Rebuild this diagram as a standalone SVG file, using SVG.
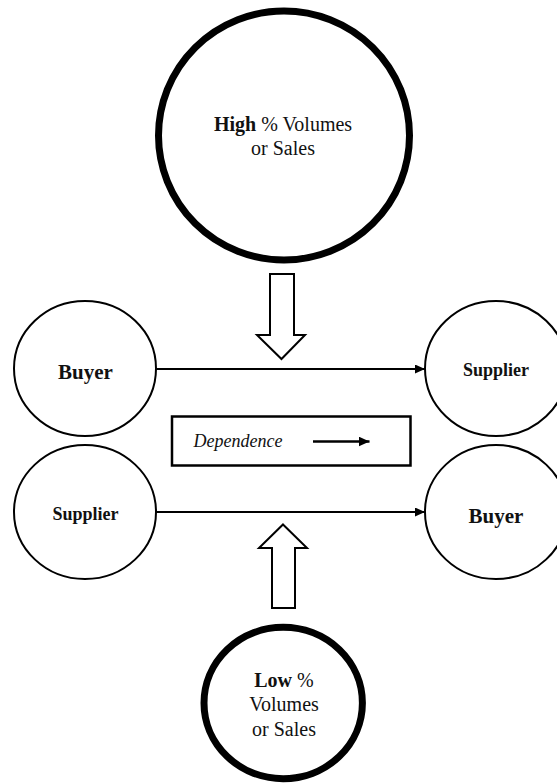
<svg xmlns="http://www.w3.org/2000/svg" width="557" height="783" viewBox="0 0 557 783">
  <style>
    .t { font-family: "Liberation Serif", "Times New Roman", serif; fill: #111; text-anchor: middle; }
    .b { font-weight: bold; }
    .big { fill: #fff; stroke: #000; stroke-width: 7; }
    .small { fill: #fff; stroke: #000; stroke-width: 2; }
    .conn { stroke: #000; stroke-width: 2; fill: none; }
    .hollow { fill: #fff; stroke: #000; stroke-width: 2; stroke-linejoin: miter; }
  </style>
  <defs>
    <marker id="head" markerUnits="userSpaceOnUse" markerWidth="10" markerHeight="9" refX="10" refY="4.5" orient="auto">
      <path d="M0,0 L10,4.5 L0,9 Z" fill="#000"/>
    </marker>
    <marker id="head-key" markerUnits="userSpaceOnUse" markerWidth="11" markerHeight="10" refX="11" refY="5" orient="auto">
      <path d="M0,0 L11,5 L0,10 Z" fill="#000"/>
    </marker>
  </defs>
  <rect width="557" height="783" fill="#fff"/>

  <!-- top volume circle -->
  <g id="high-volume">
    <ellipse class="big" cx="284" cy="135.5" rx="125.5" ry="124.5"/>
    <text class="t" x="283" y="131" font-size="20"><tspan class="b">High</tspan> % Volumes</text>
    <text class="t" x="283" y="155" font-size="20">or Sales</text>
  </g>

  <!-- upper pair -->
  <g id="buyer-top">
    <ellipse class="small" cx="85" cy="368.5" rx="71" ry="67.5"/>
    <text class="t b" x="85.5" y="379" font-size="21">Buyer</text>
  </g>
  <g id="supplier-top">
    <ellipse class="small" cx="496" cy="368.5" rx="71" ry="67.5"/>
    <text class="t b" x="496" y="376" font-size="18">Supplier</text>
  </g>

  <!-- legend box -->
  <g id="legend">
    <rect x="172" y="416.5" width="238.5" height="49" fill="#fff" stroke="#000" stroke-width="2.5"/>
    <text class="t" x="238" y="447" font-size="18" font-style="italic">Dependence</text>
    <line x1="313" y1="441.5" x2="369.5" y2="441.5" stroke="#000" stroke-width="2.6" marker-end="url(#head-key)"/>
  </g>

  <!-- lower pair -->
  <g id="supplier-bottom">
    <ellipse class="small" cx="85" cy="512" rx="71" ry="67"/>
    <text class="t b" x="85.5" y="520" font-size="18">Supplier</text>
  </g>
  <g id="buyer-bottom">
    <ellipse class="small" cx="496" cy="512" rx="71" ry="67"/>
    <text class="t b" x="496" y="523" font-size="21">Buyer</text>
  </g>

  <!-- bottom volume circle -->
  <g id="low-volume">
    <ellipse class="big" cx="283.2" cy="703" rx="79.2" ry="75.7" stroke-width="6.5"/>
    <text class="t" x="284" y="687" font-size="20"><tspan class="b">Low</tspan> %</text>
    <text class="t" x="284" y="711" font-size="20">Volumes</text>
    <text class="t" x="284" y="736" font-size="20">or Sales</text>
  </g>

  <!-- connectors -->
  <g id="connectors">
    <line class="conn" x1="156" y1="369" x2="425" y2="369" marker-end="url(#head)"/>
    <line class="conn" x1="156" y1="512" x2="425" y2="512" marker-end="url(#head)"/>
    <path class="hollow" d="M270,274 L294,274 L294,335 L305,335 L281.5,359 L257,335 L270,335 Z"/>
    <path class="hollow" d="M283,524.5 L307,548 L295,548 L295,608 L272,608 L272,548 L259,548 Z"/>
  </g>
</svg>
